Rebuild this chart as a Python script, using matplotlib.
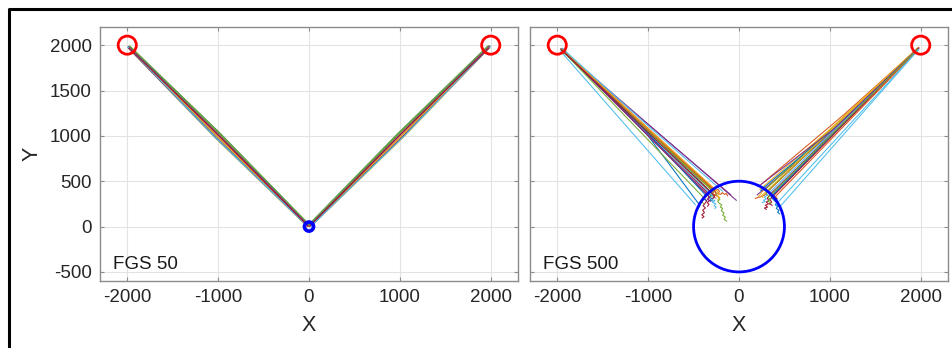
import matplotlib.pyplot as plt
from matplotlib.patches import Circle
from matplotlib.lines import Line2D

plt.rcParams['font.family'] = ['Liberation Sans', 'DejaVu Sans']
plt.rcParams['axes.unicode_minus'] = False

# MATLAB default colour order
colors = ['#0072BD', '#D95319', '#EDB120', '#7E2F8E', '#77AC30', '#4DBEEE', '#A2142F']

xticks = [-2000, -1000, 0, 1000, 2000]
yticks = [-500, 0, 500, 1000, 1500, 2000]
starts = [(-2000, 2000), (2000, 2000)]
panel_labels = ['FGS 50', 'FGS 500']
goal_radius = [50, 500]

# FGS 50 trajectories (x, y waypoints)
fgs50_left = [
    [(-1985, 1980), (-1030, 1000), (-15, 10)],
    [(-1975, 1985), (-995, 1035), (-5, 20)],
    [(-1990, 1970), (-1040, 985), (-20, 0)],
    [(-1970, 1975), (-990, 1015), (-10, 15)],
    [(-1980, 1990), (-1005, 1040), (0, 25)],
    [(-1995, 1975), (-1045, 995), (-25, 10)],
    [(-1985, 1965), (-1020, 975), (-10, 5)],
    [(-1965, 1980), (-975, 1025), (5, 15)],
    [(-1980, 1975), (-1025, 1015), (-15, 15)],
    [(-1975, 1970), (-1010, 990), (-5, 5)],
    [(-1990, 1985), (-1012, 1022), (-12, 20)],
    [(-1970, 1990), (-982, 1032), (2, 22)],
    [(-1988, 1978), (-1038, 992), (-18, 8)],
    [(-1978, 1968), (-998, 1008), (-8, 2)],
]
fgs50_right = [
    [(1985, 1980), (1030, 995), (15, 5)],
    [(1975, 1990), (995, 1030), (5, 15)],
    [(1990, 1975), (1040, 985), (20, 0)],
    [(1970, 1980), (990, 1015), (10, 12)],
    [(1980, 1995), (1005, 1035), (0, 20)],
    [(1995, 1985), (1045, 1000), (25, 8)],
    [(1985, 1970), (1020, 980), (10, 0)],
    [(1965, 1985), (975, 1022), (-5, 18)],
    [(1980, 1980), (1025, 1010), (15, 10)],
    [(1975, 1972), (1010, 992), (5, 4)],
    [(1990, 1990), (1012, 1018), (12, 14)],
    [(1970, 1992), (982, 1030), (0, 24)],
    [(1988, 1978), (1038, 990), (18, 2)],
    [(1978, 1970), (998, 1006), (8, 6)],
]

# FGS 500 trajectories (x, y waypoints)
fgs500_left = [
    [(-1960, 1950), (-1000, 1060), (-330, 400), (-310, 380), (-340, 365), (-305, 345), (-330, 325),
     (-300, 310), (-320, 290), (-285, 280)],
    [(-1950, 1960), (-280, 420), (-255, 400), (-230, 410), (-215, 385), (-235, 365), (-200, 355),
     (-185, 375), (-160, 355), (-140, 365), (-125, 340)],
    [(-1940, 1950), (-320, 430), (-305, 400), (-325, 385), (-300, 370), (-320, 355)],
    [(-1955, 1940), (-90, 350)],
    [(-1945, 1955), (-260, 380), (-245, 350), (-230, 330), (-210, 300), (-235, 280), (-215, 255),
     (-190, 240), (-205, 215), (-180, 200), (-195, 175), (-165, 150), (-180, 125), (-150, 105),
     (-165, 80), (-135, 60)],
    [(-1960, 1930), (-480, 240)],
    [(-1950, 1950), (-350, 380), (-365, 345), (-380, 310), (-355, 285), (-375, 255), (-395, 230),
     (-370, 205), (-400, 180), (-380, 155), (-410, 130), (-385, 110), (-405, 95)],
    [(-1945, 1965), (-1000, 1000), (-450, 260), (-430, 230), (-445, 205)],
    [(-1940, 1945), (-300, 400), (-275, 380), (-295, 360), (-265, 345), (-285, 325), (-255, 315)],
    [(-1950, 1955), (-360, 420)],
    [(-1960, 1960), (-30, 290)],
    [(-1955, 1945), (-310, 410), (-290, 380), (-310, 360), (-285, 345), (-315, 330)],
    [(-1950, 1940), (-300, 350), (-275, 320), (-295, 300), (-265, 285), (-290, 265), (-255, 250),
     (-275, 230), (-250, 215), (-265, 200)],
    [(-1945, 1950), (-330, 330), (-345, 305), (-325, 285), (-350, 265), (-330, 245), (-345, 225)],
    [(-1950, 1960), (-1050, 1080), (-380, 360), (-360, 330), (-390, 310), (-365, 290)],
    [(-1955, 1955), (-270, 400), (-250, 370), (-270, 350), (-240, 335)],
    [(-1945, 1960), (-1000, 1080), (-240, 390), (-220, 360), (-240, 340), (-210, 320), (-230, 300)],
    [(-1950, 1945), (-340, 350), (-320, 320), (-345, 300), (-315, 280)],
    [(-1960, 1955), (-400, 330), (-385, 300), (-410, 275), (-390, 250)],
    [(-1940, 1960), (-1000, 1110), (-180, 390)],
    [(-1955, 1950), (-290, 360), (-270, 330), (-290, 310)],
]
fgs500_right = [
    [(1970, 1960), (350, 330), (370, 305), (390, 285), (415, 265), (400, 240), (425, 220),
     (410, 200), (440, 180), (425, 160), (445, 140)],
    [(1975, 1970), (1150, 1230), (250, 470)],
    [(1960, 1955), (250, 380), (235, 355), (215, 335)],
    [(1980, 1965), (900, 930), (200, 350)],
    [(1965, 1950), (280, 400)],
    [(1970, 1945), (460, 230)],
    [(1975, 1960), (330, 340), (310, 310), (330, 290), (300, 270), (325, 250), (290, 235),
     (315, 215), (280, 205), (300, 190)],
    [(1960, 1965), (380, 350), (400, 325), (420, 300), (400, 280), (420, 260)],
    [(1980, 1975), (300, 370), (280, 345), (255, 335), (230, 325), (205, 320), (180, 310)],
    [(1965, 1970), (1000, 1070), (230, 410)],
    [(1970, 1955), (350, 360)],
    [(1975, 1965), (310, 390), (295, 365), (310, 345)],
    [(1960, 1950), (300, 340), (280, 325), (300, 305), (270, 290), (290, 275), (255, 265)],
    [(1970, 1960), (360, 320), (340, 295), (360, 270), (335, 250), (365, 235)],
    [(1965, 1960), (1000, 1040), (260, 420), (240, 395)],
    [(1975, 1955), (400, 330), (420, 310), (395, 290)],
    [(1960, 1960), (270, 360), (250, 340), (265, 320)],
    [(1970, 1965), (1050, 1080), (210, 440)],
    [(1965, 1955), (320, 320), (345, 300), (320, 280), (350, 260)],
    [(1975, 1950), (430, 270), (410, 245), (435, 225)],
]

panels = [fgs50_left + fgs50_right, fgs500_left + fgs500_right]

fig = plt.figure(figsize=(9.52, 3.48), dpi=100)
axes = [fig.add_axes([100 / 952, 67 / 348, 418 / 952, 254 / 348]),
        fig.add_axes([530 / 952, 67 / 348, 418 / 952, 254 / 348])]

for i, ax in enumerate(axes):
    for k, path in enumerate(panels[i]):
        xs = [p[0] for p in path]
        ys = [p[1] for p in path]
        ax.plot(xs, ys, color=colors[k % 7], lw=0.75, zorder=2)

    for s in starts:
        ax.add_patch(Circle(s, 100, fill=False, ec='#ff0000', lw=2.0, zorder=3))
    ax.add_patch(Circle((0, 0), goal_radius[i], fill=False, ec='#0000ff',
                        lw=[2.6, 2.0][i], zorder=3))

    ax.set_xlim(-2300, 2300)
    ax.set_ylim(-600, 2200)
    ax.set_xticks(xticks)
    ax.set_yticks(yticks)
    ax.grid(True, color='#e3e3e3', lw=0.8, zorder=0)
    ax.set_axisbelow(True)
    ax.tick_params(direction='in', length=3, width=0.8, color='#8c8c8c',
                   top=True, right=True, labelsize=13.5, labelcolor='#262626', pad=6)
    for sp in ax.spines.values():
        sp.set_color('#8c8c8c')
        sp.set_linewidth(1.0)
    ax.text(-2160, -420, panel_labels[i], fontsize=13.5, color='#1a1a1a', va='center', ha='left')
    ax.set_xlabel('X', fontsize=15.5, color='#262626')
    ax.xaxis.set_label_coords(0.5, -0.135)

axes[1].tick_params(labelleft=False)
axes[0].set_ylabel('Y', fontsize=15.5, color='#262626')
axes[0].yaxis.set_label_coords(-0.137, 0.5)

# black frame at left and top of the figure
fig.add_artist(Line2D([8.5 / 952, 8.5 / 952, 1], [0, 1 - 8.5 / 348, 1 - 8.5 / 348],
                      transform=fig.transFigure, color='black', lw=2.2))

fig.savefig('out.png', dpi=100)
